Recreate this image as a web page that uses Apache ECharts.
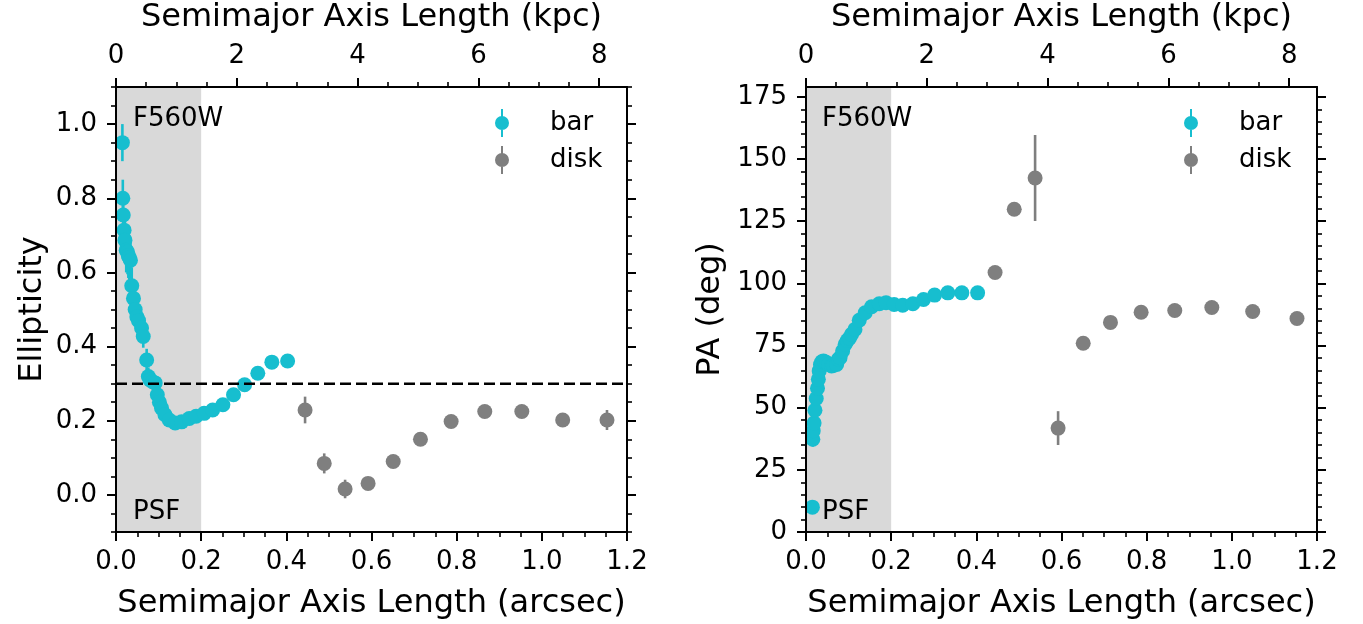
<!DOCTYPE html>
<html><head><meta charset="utf-8">
<script src="https://cdn.jsdelivr.net/npm/echarts@6/dist/echarts.min.js"></script>
<style>html,body{margin:0;padding:0;background:#fff}#c{width:1363px;height:624px}</style>
</head><body><div id="c"></div>
<script>
// ---------- data ----------
const KPC_PER_ARCSEC = 7.05;
const PSF_FWHM_ARCSEC = 0.2;
const ELL_REF = 0.3;
const ARCSEC_MAX = 1.2;
const ELL_MIN = -0.1, ELL_MAX = 1.1;
const PA_MIN = 0, PA_MAX = 179;

const arcsecTicks = [0, 0.2, 0.4, 0.6, 0.8, 1.0, 1.2];
const kpcTicks = [0, 2, 4, 6, 8];
const ellTicks = [0, 0.2, 0.4, 0.6, 0.8, 1.0];
const paTicks = [0, 25, 50, 75, 100, 125, 150, 175];

const barSma = [0.015, 0.016, 0.017, 0.019, 0.021, 0.024, 0.027, 0.029, 0.031, 0.034,
  0.037, 0.041, 0.045, 0.049, 0.053, 0.060, 0.064, 0.072, 0.076, 0.080,
  0.086, 0.092, 0.097, 0.102, 0.107, 0.115, 0.125, 0.139, 0.154, 0.172,
  0.188, 0.207, 0.227, 0.251, 0.276, 0.302, 0.333, 0.366, 0.403];
const barEll = [0.95, 0.80, 0.755, 0.714, 0.687, 0.66, 0.655, 0.645, 0.64, 0.633,
  0.564, 0.53, 0.50, 0.48, 0.47, 0.45, 0.427, 0.364, 0.319, 0.31,
  0.305, 0.302, 0.27, 0.25, 0.234, 0.216, 0.202, 0.194, 0.197, 0.206,
  0.212, 0.22, 0.229, 0.243, 0.27, 0.297, 0.328, 0.358, 0.361];
const barEllErr = [0.05, 0.05, 0.05, 0.05, 0.05, 0.06, 0.06, 0.06, 0.06, 0.05,
  0.05, 0.04, 0.04, 0.035, 0.035, 0.03, 0.03, 0.03, 0.025, 0.02,
  0.02, 0.02, 0.015, 0.015, 0.012, 0.01, 0.01, 0.008, 0.008, 0.008,
  0.008, 0.008, 0.008, 0.01, 0.01, 0.012, 0.015, 0.018, 0.018];
const barPA = [10, 37.3, 40.7, 43.8, 49, 53.7, 57.8, 61.4, 64.8, 67.4,
  68.5, 68.8, 68.4, 68.1, 67.5, 66.8, 67.0, 67.4, 69.5, 70.1,
  72.8, 75.5, 77.0, 78.0, 79.5, 81.5, 85.2, 88.2, 90.6, 91.8,
  92.2, 91.5, 91.2, 91.8, 93.5, 95.3, 96.2, 96.2, 96.2];
const barPAErr = [0.5, 3, 2.5, 2, 2, 1.5, 1.5, 1.5, 1.5, 1.5,
  1.5, 1.5, 1.5, 1.5, 1.5, 1.5, 1.5, 1.5, 1.5, 1.5,
  1.2, 1.2, 1.2, 1.2, 1, 1, 1, 1, 1, 1,
  1, 1, 1, 1, 1, 1, 1, 1, 1];

const diskSma = [0.444, 0.489, 0.538, 0.592, 0.651, 0.715, 0.787, 0.866, 0.953, 1.049, 1.153];
const diskEll = [0.229, 0.085, 0.016, 0.031, 0.090, 0.150, 0.198, 0.225, 0.225, 0.202, 0.202];
const diskEllErr = [0.036, 0.027, 0.025, 0.008, 0.008, 0.008, 0.008, 0.008, 0.008, 0.008, 0.027];
const diskPA = [104.4, 129.8, 142.4, 41.8, 75.9, 84.3, 88.4, 89.1, 90.3, 88.7, 85.9];
const diskPAErr = [1.5, 2, 17.3, 6.8, 1.5, 1.2, 1.2, 1.2, 1.2, 1.2, 1.2];

// ---------- style ----------
const FONT = 'DejaVu Sans';
const C_BAR = '#17becf', C_DISK = '#7f7f7f', C_BAND = '#d9d9d9';
const ICON = 'path://M6,0 L8,0 L8,28 L6,28 Z M0,14 A7,7 0 1,1 14,14 A7,7 0 1,1 0,14 Z';

function minorValues(min, max, step) {
  const out = [];
  const i0 = Math.ceil(min / step - 1e-9), i1 = Math.floor(max / step + 1e-9);
  for (let i = i0; i <= i1; i++) out.push(Number((i * step).toFixed(6)));
  return out;
}
function majorAxis(g, position, min, max, ticks, fmt, name, nameGap, margin) {
  return {
    type: 'value', gridIndex: g, position, min, max, z: 10,
    axisLine: {show: true, onZero: false, lineStyle: {color: '#000', width: 2}},
    axisTick: {show: true, inside: false, length: 9, customValues: ticks, lineStyle: {color: '#000', width: 2}},
    axisLabel: {show: !!fmt, customValues: ticks, formatter: fmt || undefined, margin: margin,
      color: '#000', fontSize: 26, fontFamily: FONT},
    splitLine: {show: false}, minorTick: {show: false},
    name: name, nameLocation: 'middle', nameGap: nameGap,
    nameTextStyle: {color: '#000', fontSize: 32, fontFamily: FONT}
  };
}
function minorAxis(g, position, min, max, ticks) {
  return {
    type: 'value', gridIndex: g, position, min, max, z: 10,
    axisLine: {show: false, onZero: false},
    axisTick: {show: true, inside: false, length: 5, customValues: ticks, lineStyle: {color: '#000', width: 1.6}},
    axisLabel: {show: false}, splitLine: {show: false}
  };
}
const kpcMax = ARCSEC_MAX * KPC_PER_ARCSEC;
function xAxesFor(g) {
  return [
    majorAxis(g, 'bottom', 0, ARCSEC_MAX, arcsecTicks, v => v.toFixed(1), 'Semimajor Axis Length (arcsec)', 56, 17),
    minorAxis(g, 'bottom', 0, ARCSEC_MAX, minorValues(0, ARCSEC_MAX, 0.05)),
    majorAxis(g, 'top', 0, kpcMax, kpcTicks, v => String(v), 'Semimajor Axis Length (kpc)', 53, 18),
    minorAxis(g, 'top', 0, kpcMax, minorValues(0, kpcMax, 0.5))
  ];
}
function yAxesFor(g, min, max, ticks, step, fmt, name, gap) {
  return [
    majorAxis(g, 'left', min, max, ticks, fmt, name, gap, 19),
    minorAxis(g, 'left', min, max, minorValues(min, max, step)),
    majorAxis(g, 'right', min, max, ticks, null, '', 0, 0),
    minorAxis(g, 'right', min, max, minorValues(min, max, step))
  ];
}
function errItem(params, api) {
  const x = api.value(0), y = api.value(1), e = api.value(2);
  const a = api.coord([x, y - e]), b = api.coord([x, y + e]);
  return {type: 'line', shape: {x1: a[0], y1: a[1], x2: b[0], y2: b[1]},
    style: {stroke: api.visual('color'), lineWidth: 2.6}};
}
function bandItem(params, api) {
  const cs = params.coordSys;
  const x0 = api.coord([api.value(0), 0])[0], x1 = api.coord([api.value(1), 0])[0];
  return {type: 'rect', shape: {x: x0, y: cs.y, width: x1 - x0, height: cs.height}, style: {fill: C_BAND}};
}
function refLineItem(params, api) {
  const cs = params.coordSys;
  const y = api.coord([0, api.value(1)])[1];
  return {type: 'line', shape: {x1: cs.x, y1: y, x2: cs.x + cs.width, y2: y},
    style: {stroke: '#000', lineWidth: 2.5, lineDash: [11, 5]}};
}
function panelSeries(g, yBar, yBarErr, yDisk, yDiskErr) {
  const ax = {xAxisIndex: 4 * g, yAxisIndex: 4 * g};
  return [
    Object.assign({type: 'custom', name: 'psf band', z: 1, silent: true, renderItem: bandItem,
      data: [[0, PSF_FWHM_ARCSEC]]}, ax),
    Object.assign({type: 'custom', name: 'bar err', z: 2, silent: true, renderItem: errItem, clip: true,
      itemStyle: {color: C_BAR}, data: barSma.map((x, i) => [x, yBar[i], yBarErr[i]])}, ax),
    Object.assign({type: 'custom', name: 'disk err', z: 2, silent: true, renderItem: errItem, clip: true,
      itemStyle: {color: C_DISK}, data: diskSma.map((x, i) => [x, yDisk[i], yDiskErr[i]])}, ax),
    Object.assign({type: 'scatter', name: 'bar', z: 3, symbol: 'circle', symbolSize: 15,
      itemStyle: {color: C_BAR, opacity: 1}, data: barSma.map((x, i) => [x, yBar[i]])}, ax),
    Object.assign({type: 'scatter', name: 'disk', z: 3, symbol: 'circle', symbolSize: 15,
      itemStyle: {color: C_DISK, opacity: 1}, data: diskSma.map((x, i) => [x, yDisk[i]])}, ax)
  ];
}
function legendAt(left) {
  return {
    data: [{name: 'bar', icon: ICON}, {name: 'disk', icon: ICON}],
    orient: 'vertical', left: left, top: 109, itemWidth: 86, itemHeight: 28, itemGap: 9,
    padding: 0, selectedMode: false, symbolKeepAspect: true,
    textStyle: {fontSize: 26, fontFamily: FONT, color: '#000', lineHeight: 28}
  };
}
function label(text, left, top) {
  return {type: 'text', left: left, top: top, z: 20, silent: true,
    style: {text: text, fontSize: 26, fontFamily: FONT, fill: '#000'}};
}

const series = [].concat(
  panelSeries(0, barEll, barEllErr, diskEll, diskEllErr),
  [{type: 'custom', name: 'ref', z: 4, silent: true, xAxisIndex: 0, yAxisIndex: 0,
    renderItem: refLineItem, data: [[0, ELL_REF]]}],
  panelSeries(1, barPA, barPAErr, diskPA, diskPAErr)
);

const option = {
  animation: false,
  backgroundColor: '#fff',
  textStyle: {fontFamily: FONT},
  grid: [
    {left: 116, top: 87, width: 511, height: 445, outerBoundsMode: 'none', containLabel: false},
    {left: 806, top: 87, width: 511, height: 445, outerBoundsMode: 'none', containLabel: false}
  ],
  xAxis: [].concat(xAxesFor(0), xAxesFor(1)),
  yAxis: [].concat(
    yAxesFor(0, ELL_MIN, ELL_MAX, ellTicks, 0.05, v => v.toFixed(1), 'Ellipticity', 67),
    yAxesFor(1, PA_MIN, PA_MAX, paTicks, 5, v => String(v), 'PA (deg)', 79)
  ),
  legend: [legendAt(495), legendAt(1184)],
  graphic: [label('F560W', 133, 106), label('PSF', 133, 499), label('F560W', 822, 106), label('PSF', 822, 499)],
  series: series
};
const chart = echarts.init(document.getElementById('c'), null, {renderer: 'canvas'});
chart.setOption(option);
</script></body></html>
